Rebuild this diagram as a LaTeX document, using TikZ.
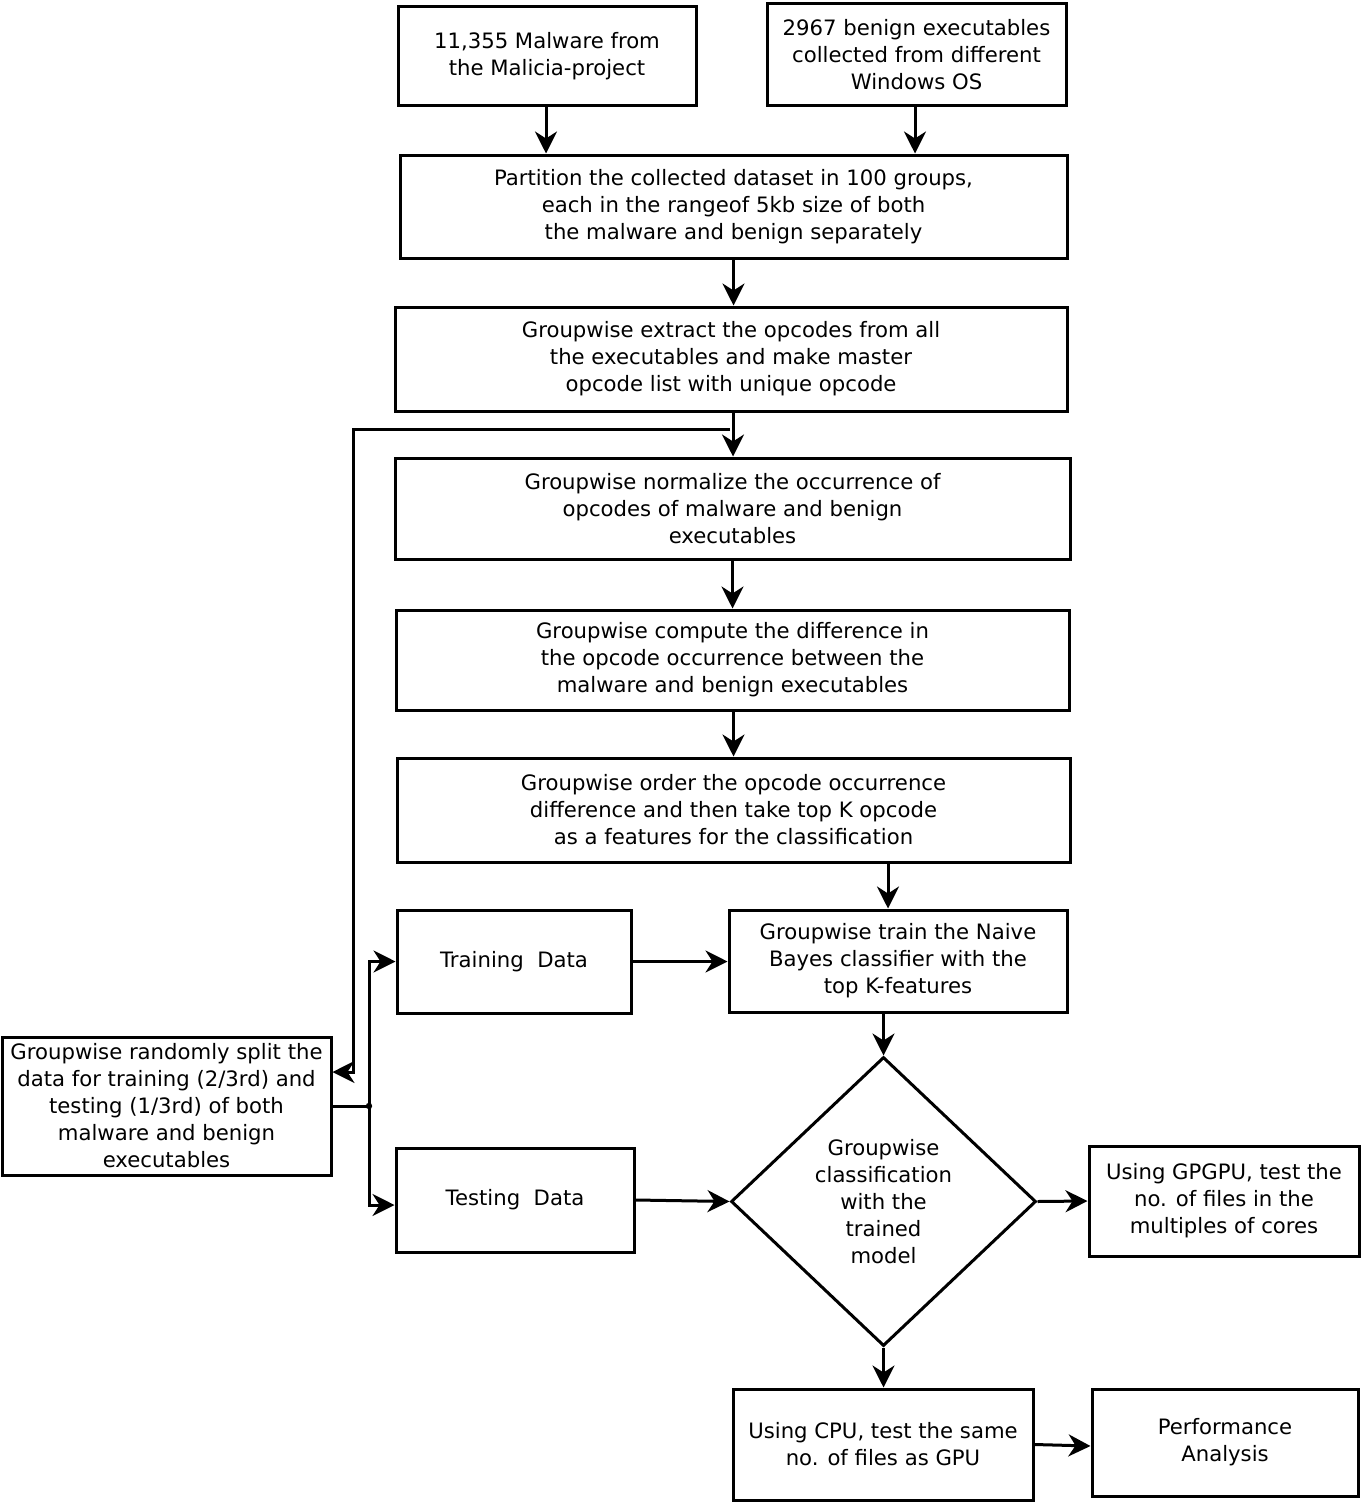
\documentclass[tikz,border=0pt]{standalone}
\usepackage{fontspec}
\setmainfont{DejaVu Sans}
\usetikzlibrary{arrows.meta,shapes.geometric}
\begin{document}
\begin{tikzpicture}[x=0.5pt,y=-0.5pt,
  every node/.style={font=\fontsize{10.6pt}{13.5pt}\selectfont, align=center},
  box/.style={draw, line width=1.5pt, rectangle, inner sep=0pt},
  arr/.style={line width=1.5pt, -{Stealth[length=11pt,width=11pt,inset=3.5pt]}},
  ln/.style={line width=1.5pt}]
\useasboundingbox (0,0) rectangle (1363,1504);
\node[box, minimum width=149pt, minimum height=49.5pt] (m1) at (547,56.5) {11,355 Malware from\\the Malicia-project};
\node[box, minimum width=149.5pt, minimum height=51pt] (m2) at (916.5,55) {2967 benign executables\\collected from different\\Windows OS};
\node[box, minimum width=333.5pt, minimum height=51.5pt] (p) at (733.5,206.5) {Partition the collected dataset in 100 groups,\\each in the rangeof 5kb size of both\\the malware and benign separately};
\node[box, minimum width=336pt, minimum height=52pt] (ex) at (731,359) {Groupwise extract the opcodes from all\\the executables and make master\\opcode list with unique opcode};
\node[box, minimum width=337.5pt, minimum height=50.5pt] (no) at (732.5,508.5) {Groupwise normalize the occurrence of\\opcodes of malware and benign\\executables};
\node[box, minimum width=336.5pt, minimum height=50pt] (co) at (732.5,660) {Groupwise compute the difference in\\the opcode occurrence between the\\malware and benign executables};
\node[box, minimum width=336.5pt, minimum height=52pt] (or) at (733.5,810) {Groupwise order the opcode occurrence\\difference and then take top K opcode\\as a features for the classification};
\node[box, minimum width=117pt, minimum height=51.5pt] (tr) at (514,961.5) {Training\ \ Data};
\node[box, minimum width=169pt, minimum height=51pt] (nb) at (898,961) {Groupwise train the Naive\\Bayes classifier with the\\top K-features};
\node[box, minimum width=164.5pt, minimum height=69pt] (sp) at (166.5,1106) {Groupwise randomly split the\\data for training (2/3rd) and\\testing (1/3rd) of both\\malware and benign\\executables};
\node[box, minimum width=119pt, minimum height=52pt] (te) at (515,1200) {Testing\ \ Data};
\node[draw, line width=1.5pt, diamond, inner sep=0pt, minimum width=152.5pt, minimum height=144.5pt] (di) at (883.5,1201.5) {Groupwise\\classification\\with the\\trained\\model};
\node[box, minimum width=135pt, minimum height=55pt] (gp) at (1224,1201) {Using GPGPU, test the\\no. of files in the\\multiples of cores};
\node[box, minimum width=150pt, minimum height=55.5pt] (cpu) at (883,1444.5) {Using CPU, test the same\\no. of files as GPU};
\node[box, minimum width=133pt, minimum height=53.5pt] (pe) at (1225,1442.5) {Performance\\Analysis};
% arrows
\draw[arr] ([xshift=-0.5pt]m1.south) -- ([xshift=-0.5pt]m1.south |- p.north);
\draw[arr] ([xshift=-0.75pt]m2.south) -- ([xshift=-0.75pt]m2.south |- p.north);
\draw[arr] (p.south) -- (p.south |- ex.north);
\draw[arr] ([xshift=1pt]ex.south) -- ([xshift=1pt]ex.south |- no.north);
\coordinate (fb) at (353,429);
\draw[arr] ([xshift=-0.5pt]ex.south |- fb) -- (fb) |- ([yshift=17pt]sp.east);
\draw[arr] (no.south) -- (no.south |- co.north);
\draw[arr] ([xshift=0.5pt]co.south) -- ([xshift=0.5pt]co.south |- or.north);
\draw[arr] ([xshift=-5pt]nb.north |- or.south) -- ([xshift=-5pt]nb.north);
\draw[arr] (tr.east) -- (tr.east -| nb.west);
\draw[arr] (di.north |- nb.south) -- (di.north);
\coordinate (jn) at (369,1106);
\draw[ln] (sp.east) -- (jn);
\fill (jn) circle (1.6pt);
\draw[arr] (jn) |- (tr.west);
\draw[arr] (jn) |- ([yshift=-2.5pt]te.west);
\draw[arr] (te.east) -- (di.west);
\draw[arr] (di.east) -- (gp.west);
\draw[arr] (di.south) -- (di.south |- cpu.north);
\draw[arr] (cpu.east) -- ([yshift=-0.75pt]cpu.east -| pe.west);
\end{tikzpicture}
\end{document}
